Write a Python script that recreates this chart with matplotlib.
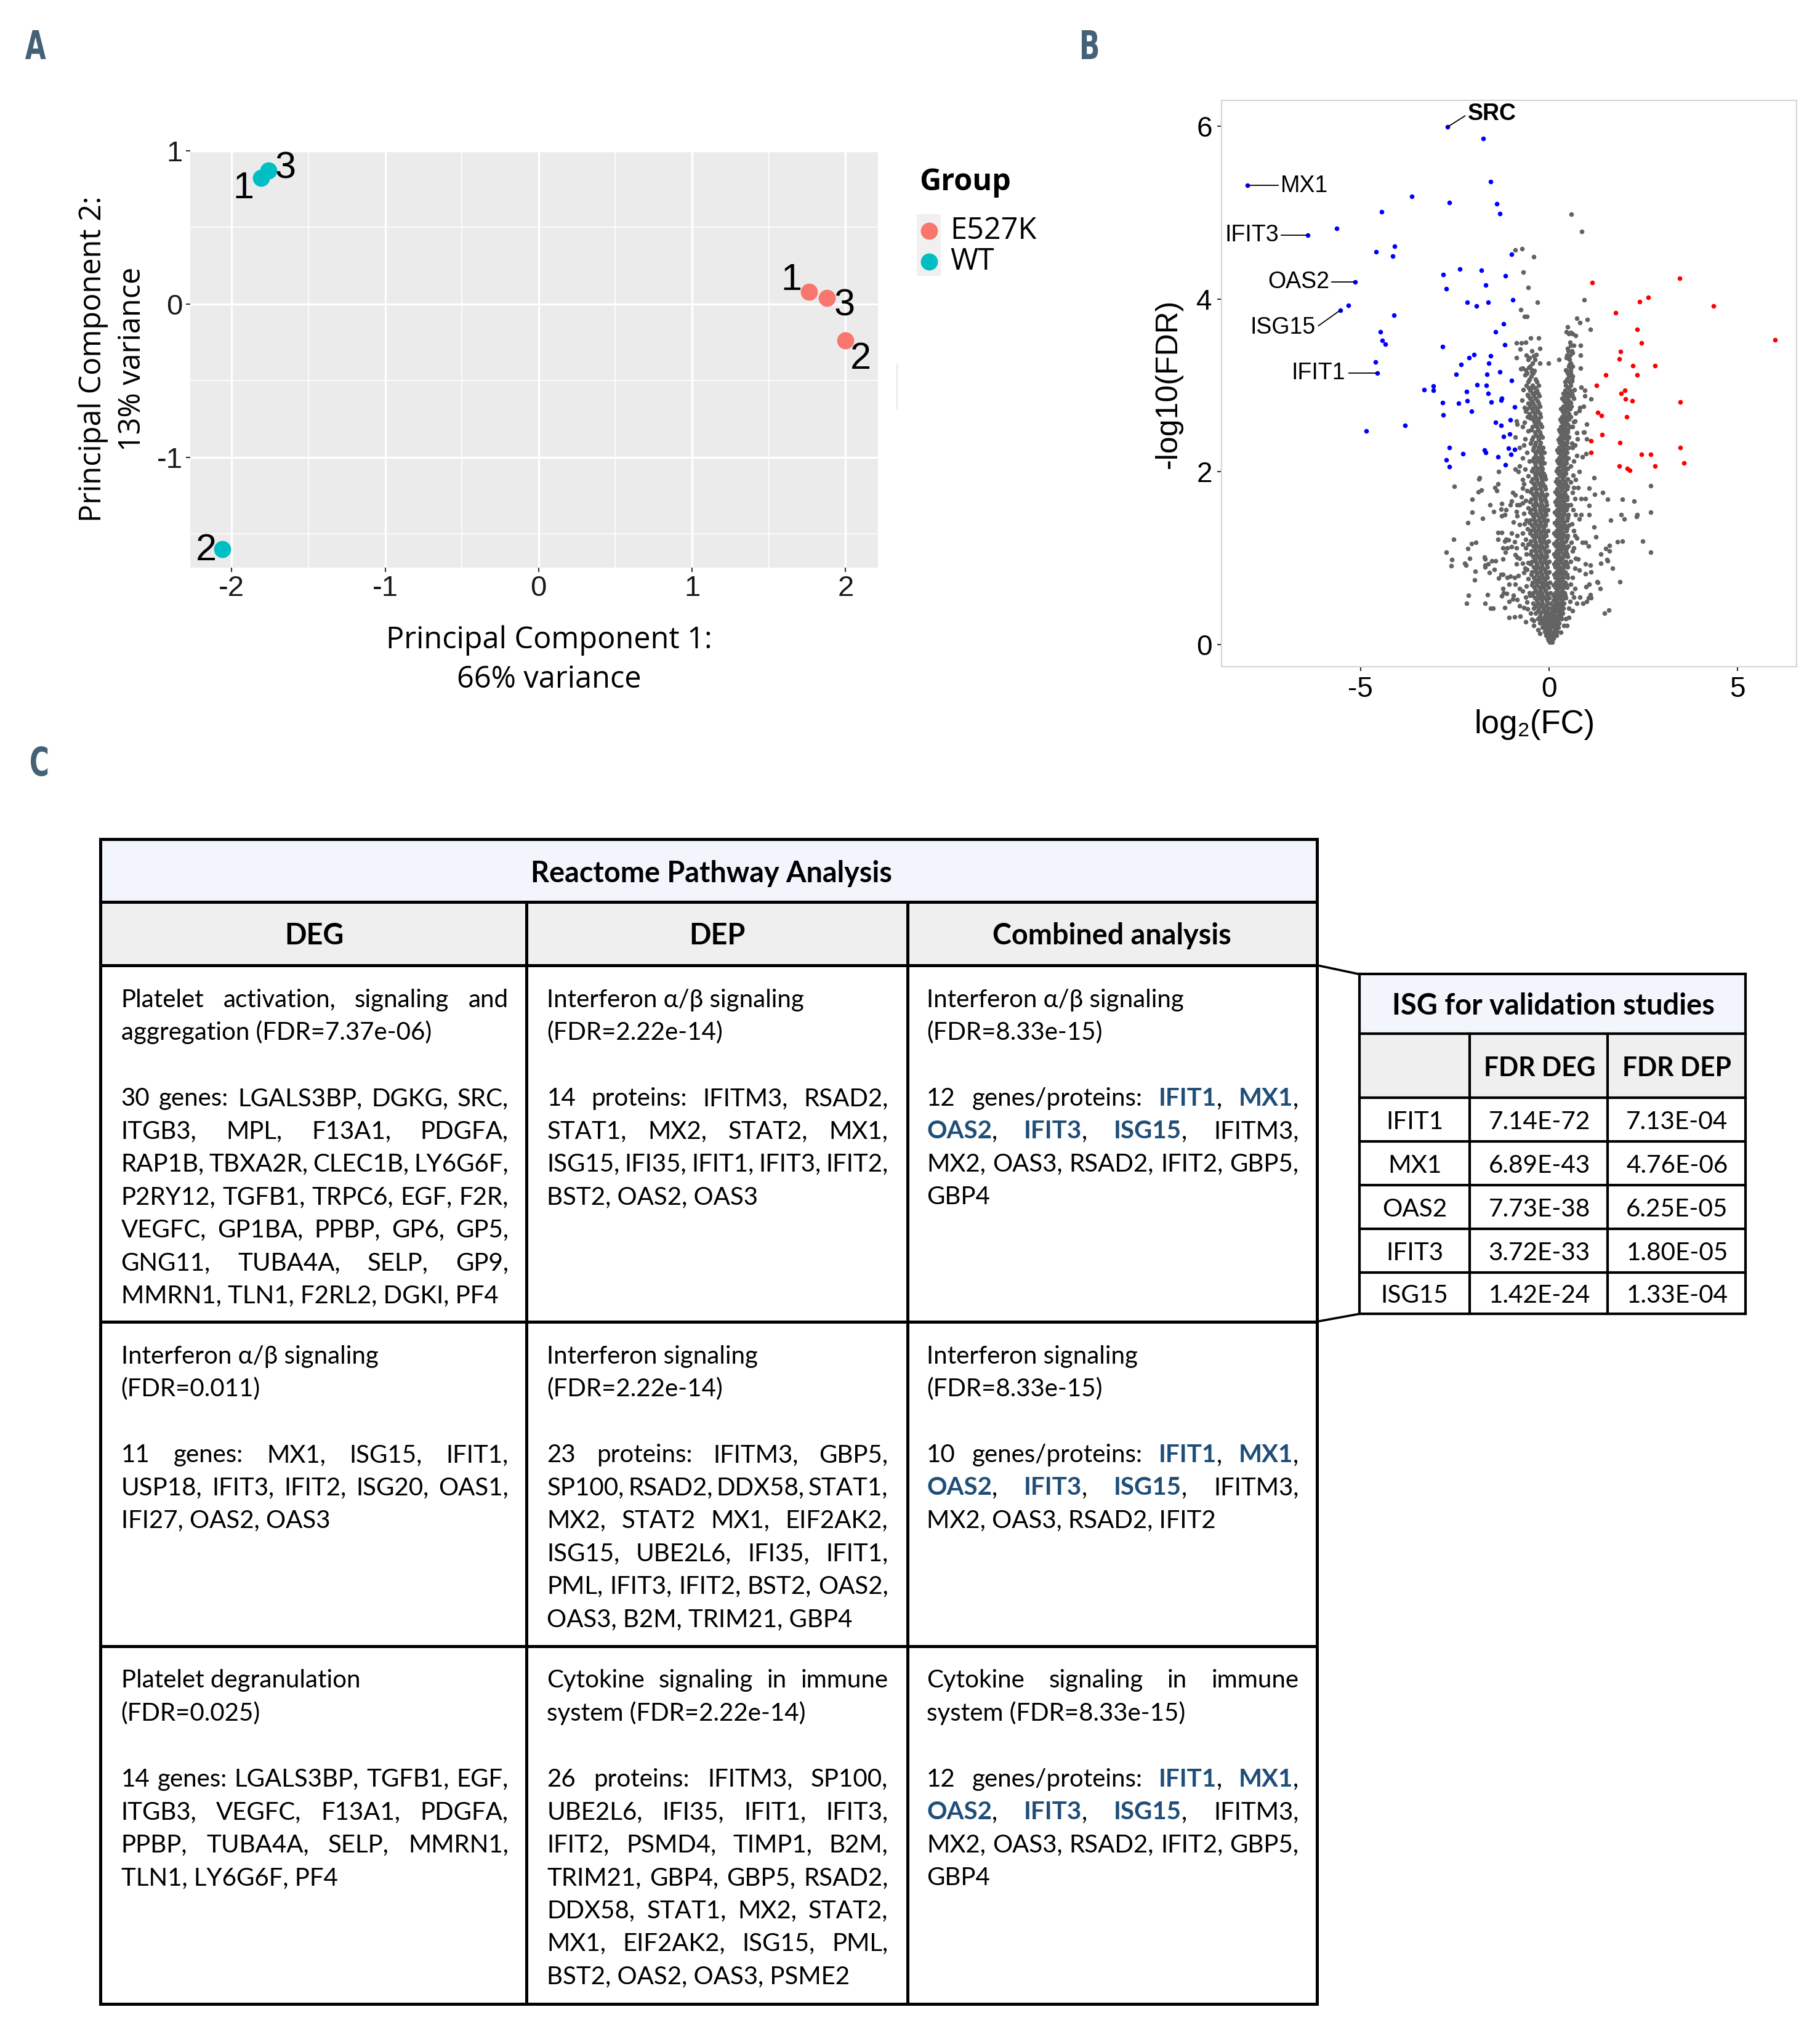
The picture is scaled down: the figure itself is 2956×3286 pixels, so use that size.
import numpy as np
import matplotlib
matplotlib.use("Agg")
import matplotlib.pyplot as plt
from matplotlib.patches import Rectangle, PathPatch
from matplotlib.lines import Line2D
from matplotlib.textpath import TextPath
from matplotlib.font_manager import FontProperties
from matplotlib.transforms import Affine2D, IdentityTransform

plt.rcParams["axes.unicode_minus"] = False

# ---------------- data ----------------
# panel A: PCA
pc1_wt = [-1.81, -2.06, -1.76]
pc2_wt = [0.82, -1.60, 0.87]
pc1_mut = [1.76, 2.00, 1.88]
pc2_mut = [0.08, -0.24, 0.04]
sample_ids = ["1", "2", "3"]

# panel B: volcano (log2FC, -log10 FDR)
blue_pts = [
    (-2.70, 5.99), (-1.74, 5.86), (-8.00, 5.32), (-1.55, 5.36), (-3.64, 5.19), (-2.64, 5.12),
    (-1.39, 5.10), (-1.31, 4.99), (-4.45, 5.01), (-5.63, 4.82), (-6.40, 4.74), (-4.10, 4.61),
    (-4.59, 4.55), (-4.15, 4.50), (-2.36, 4.35), (-1.80, 4.33), (-2.81, 4.28), (-1.16, 4.27),
    (-5.14, 4.20), (-1.68, 4.16), (-2.73, 4.12), (-2.17, 3.96), (-1.92, 3.92), (-1.62, 3.96),
    (-5.33, 3.93), (-5.54, 3.87), (-4.11, 3.81), (-1.20, 3.71), (-1.42, 3.62), (-4.47, 3.62),
    (-4.43, 3.52), (-4.35, 3.48), (-2.83, 3.45), (-1.17, 3.47), (-1.99, 3.36), (-1.55, 3.34),
    (-2.12, 3.32), (-4.61, 3.27), (-1.60, 3.26), (-2.33, 3.24), (-4.56, 3.14), (-2.47, 3.13),
    (-1.65, 3.13), (-1.31, 3.16), (-1.00, 4.52), (-0.96, 3.99), (-1.00, 3.06),
    (-3.32, 2.95), (-3.07, 2.99), (-3.07, 2.94), (-2.18, 2.93), (-1.91, 3.01), (-1.67, 3.00),
    (-1.61, 2.91), (-2.83, 2.80), (-2.40, 2.79), (-2.17, 2.82), (-1.54, 2.81), (-1.26, 2.85),
    (-1.28, 2.83), (-2.81, 2.66), (-2.06, 2.70), (-3.82, 2.54), (-4.85, 2.47), (-1.42, 2.57),
    (-1.28, 2.54), (-1.20, 2.41), (-2.64, 2.28), (-2.28, 2.21), (-1.71, 2.25), (-1.68, 2.22),
    (-1.36, 2.17), (-2.73, 2.14), (-2.65, 2.06), (-1.16, 2.08),
    (-0.91, 2.75), (-1.03, 2.60), (-1.04, 2.44), (-1.07, 2.27), (-0.92, 2.26), (-1.01, 2.20),
]
red_pts = [
    (1.15, 4.19), (3.46, 4.24), (2.63, 4.02), (2.41, 3.97), (4.37, 3.92), (1.77, 3.84),
    (2.34, 3.65), (6.00, 3.53), (2.45, 3.49), (1.90, 3.39), (1.86, 3.31), (2.23, 3.23),
    (2.81, 3.23), (1.51, 3.12), (2.34, 3.12), (1.26, 3.00), (1.91, 2.91), (2.01, 2.94),
    (2.03, 2.84), (2.21, 2.82), (3.49, 2.81), (1.29, 2.69), (1.39, 2.65), (2.06, 2.64),
    (1.41, 2.43), (1.11, 2.36), (1.88, 2.34), (3.49, 2.28), (1.11, 2.22), (2.46, 2.20),
    (2.70, 2.20), (3.58, 2.10), (1.86, 2.07), (2.08, 2.04), (2.14, 2.02), (2.82, 2.07),
]
# dense V of non-significant genes: (y, x values on that row)
grey_rows = [
    (0.03, [0.02, 0.09]),
    (0.05, [-0.01, 0.07]),
    (0.07, [-0.03, 0.05, 0.12]),
    (0.11, [-0.08, 0.0, 0.07, 0.13, 0.19]),
    (0.13, [-0.05, 0.03, 0.10, 0.17]),
    (0.15, [-0.12, -0.03, 0.05, 0.14, 0.22]),
    (0.17, [-0.10, 0.01, 0.18]),
    (0.20, [-0.18, -0.07, 0.03, 0.14, 0.24]),
    (0.22, [-0.14, -0.04, 0.08, 0.19]),
    (0.25, [-0.24, -0.12, -0.02, 0.05, 0.15, 0.26]),
    (0.27, [-0.19, -0.08, 0.01, 0.10, 0.21]),
    (0.30, [-0.30, -0.17, -0.06, 0.04, 0.15, 0.25, 0.33]),
    (0.33, [-0.24, -0.12, -0.01, 0.10, 0.21, 0.31]),
    (0.36, [-0.36, -0.22, -0.10, 0.02, 0.14, 0.26, 0.36]),
    (0.39, [-0.29, -0.16, -0.04, 0.10, 0.22, 0.33]),
    (0.42, [-0.40, -0.27, -0.14, -0.02, 0.05, 0.15, 0.27, 0.38]),
    (0.45, [-0.35, -0.21, -0.08, 0.11, 0.23, 0.35]),
    (0.48, [-0.43, -0.30, -0.18, -0.05, 0.04, 0.16, 0.28, 0.40]),
    (0.51, [-0.33, -0.20, -0.07, 0.11, 0.22, 0.34]),
    (0.54, [-0.38, -0.25, -0.12, 0.0, 0.15, 0.26, 0.37, 0.45]),
    (0.57, [-0.44, -0.30, -0.17, -0.05, 0.12, 0.21, 0.32, 0.43]),
    (0.60, [-0.42, -0.31, -0.19, -0.07, 0.03, 0.17, 0.29, 0.41]),
    (0.63, [-0.35, -0.22, -0.09, 0.22, 0.34]),
    (0.66, [-0.39, -0.26, -0.14, -0.02, 0.16, 0.27, 0.38, 0.48]),
    (0.69, [-0.46, -0.32, -0.18, -0.06, 0.12, 0.23, 0.35, 0.46]),
    (0.72, [-0.44, -0.33, -0.21, -0.09, 0.02, 0.18, 0.30, 0.42]),
    (0.75, [-0.36, -0.24, -0.11, 0.23, 0.34]),
    (0.78, [-0.40, -0.28, -0.16, -0.04, 0.16, 0.26, 0.37, 0.49]),
    (0.81, [-0.47, -0.32, -0.19, -0.06, 0.13, 0.24, 0.36, 0.47]),
    (0.84, [-0.45, -0.34, -0.22, -0.10, 0.01, 0.19, 0.31, 0.43]),
    (0.87, [-0.36, -0.23, -0.11, 0.24, 0.35]),
    (0.90, [-0.41, -0.29, -0.17, -0.05, 0.17, 0.28, 0.39, 0.50]),
    (0.93, [-0.48, -0.33, -0.20, -0.07, 0.13, 0.25, 0.37, 0.48]),
    (0.96, [-0.46, -0.35, -0.23, -0.11, 0.0, 0.18, 0.32, 0.44]),
    (0.99, [-0.37, -0.24, -0.12, 0.23, 0.34]),
    (1.02, [-0.42, -0.30, -0.18, -0.06, 0.17, 0.27, 0.38, 0.49]),
    (1.05, [-0.49, -0.34, -0.21, -0.08, 0.13, 0.25, 0.37, 0.48]),
    (1.08, [-0.47, -0.36, -0.24, -0.12, -0.01, 0.19, 0.31, 0.44]),
    (1.11, [-0.38, -0.25, -0.13, 0.24, 0.35, 0.46]),
    (1.14, [-0.43, -0.31, -0.19, -0.07, 0.18, 0.29, 0.40, 0.51]),
    (1.17, [-0.50, -0.35, -0.21, -0.08, 0.14, 0.26, 0.38]),
    (1.20, [-0.48, -0.37, -0.25, -0.13, -0.02, 0.20, 0.33, 0.45]),
    (1.23, [-0.39, -0.26, -0.14, 0.24, 0.35, 0.47]),
    (1.26, [-0.44, -0.32, -0.20, -0.08, 0.18, 0.28, 0.39, 0.50]),
    (1.29, [-0.51, -0.36, -0.22, -0.09, 0.14, 0.26, 0.38]),
    (1.32, [-0.49, -0.38, -0.26, -0.14, -0.03, 0.20, 0.32, 0.46]),
    (1.35, [-0.40, -0.27, -0.15, 0.25, 0.36, 0.48]),
    (1.38, [-0.45, -0.33, -0.21, -0.09, 0.19, 0.30, 0.41, 0.52]),
    (1.41, [-0.52, -0.37, -0.23, -0.10, 0.15, 0.27, 0.39]),
    (1.44, [-0.50, -0.39, -0.27, -0.15, -0.04, 0.21, 0.34, 0.47]),
    (1.47, [-0.40, -0.26, -0.14, 0.25, 0.36, 0.49]),
    (1.50, [-0.44, -0.32, -0.20, -0.08, 0.19, 0.29, 0.40, 0.51]),
    (1.53, [-0.51, -0.36, -0.22, -0.09, 0.15, 0.27, 0.40]),
    (1.56, [-0.48, -0.37, -0.25, -0.13, -0.03, 0.21, 0.33, 0.46]),
    (1.59, [-0.39, -0.25, -0.13, 0.26, 0.37, 0.47]),
    (1.62, [-0.43, -0.31, -0.19, -0.07, 0.20, 0.30, 0.41, 0.50]),
    (1.65, [-0.50, -0.35, -0.21, -0.08, 0.16, 0.28, 0.40]),
    (1.68, [-0.47, -0.35, -0.23, -0.11, 0.22, 0.34, 0.47]),
    (1.71, [-0.38, -0.24, -0.12, 0.27, 0.37, 0.48]),
    (1.74, [-0.42, -0.30, -0.18, -0.06, 0.21, 0.31, 0.42]),
    (1.77, [-0.48, -0.34, -0.20, 0.17, 0.28, 0.41]),
    (1.80, [-0.46, -0.34, -0.22, -0.10, 0.22, 0.35, 0.48]),
    (1.83, [-0.37, -0.23, -0.11, 0.28, 0.39, 0.50]),
    (1.86, [-0.40, -0.28, -0.16, 0.23, 0.33, 0.44]),
    (1.89, [-0.47, -0.33, -0.19, 0.18, 0.29, 0.42]),
    (1.92, [-0.44, -0.32, -0.20, -0.09, 0.22, 0.36, 0.49]),
    (1.95, [-0.36, -0.22, -0.11, 0.29, 0.40]),
    (1.98, [-0.38, -0.26, -0.14, 0.24, 0.34, 0.45]),
    (2.01, [-0.45, -0.32, -0.19, 0.19, 0.30, 0.43]),
    (2.04, [-0.42, -0.30, -0.18, 0.23, 0.37, 0.50]),
    (2.07, [-0.35, -0.21, 0.30, 0.41]),
    (2.10, [-0.37, -0.25, -0.13, 0.25, 0.35, 0.46]),
    (2.13, [-0.44, -0.31, -0.19, 0.21, 0.32, 0.44]),
    (2.16, [-0.41, -0.29, -0.17, 0.26, 0.38, 0.51]),
    (2.19, [-0.35, -0.21, 0.31, 0.42]),
    (2.22, [-0.36, -0.24, -0.13, 0.25, 0.36, 0.47]),
    (2.25, [-0.43, -0.30, -0.19, 0.22, 0.33, 0.45]),
    (2.28, [-0.40, -0.28, -0.16, 0.27, 0.39, 0.52]),
    (2.31, [-0.37, -0.24, 0.33, 0.44]),
    (2.34, [-0.35, -0.23, 0.28, 0.37, 0.48]),
    (2.37, [-0.45, -0.27, 0.24, 0.35, 0.47]),
    (2.40, [-0.42, -0.30, -0.18, 0.29, 0.41, 0.53]),
    (2.43, [-0.35, -0.22, 0.35, 0.46]),
    (2.46, [-0.37, -0.25, 0.30, 0.40, 0.50]),
    (2.49, [-0.47, -0.30, 0.26, 0.37, 0.49]),
    (2.52, [-0.44, -0.32, -0.20, 0.31, 0.43, 0.55]),
    (2.55, [-0.36, -0.23, 0.38, 0.50]),
    (2.58, [-0.39, -0.27, 0.33, 0.44]),
    (2.61, [-0.43, -0.30, 0.29, 0.41, 0.52]),
    (2.64, [-0.47, -0.35, -0.22, 0.34, 0.46, 0.57]),
    (2.67, [-0.52, -0.38, -0.25, 0.40, 0.53]),
    (2.70, [-0.42, -0.29, 0.36, 0.48]),
    (2.73, [-0.46, -0.33, 0.32, 0.44, 0.55]),
    (2.76, [-0.50, -0.38, -0.24, 0.37, 0.50, 0.59]),
    (2.79, [-0.55, -0.42, -0.28, 0.45, 0.56]),
    (2.82, [-0.45, -0.31, 0.39, 0.52]),
    (2.85, [-0.50, -0.36, 0.35, 0.48]),
    (2.88, [-0.55, -0.41, -0.26, 0.41, 0.54, 0.62]),
    (2.91, [-0.44, -0.30, 0.38, 0.50, 0.60]),
    (2.94, [-0.48, -0.33, 0.43, 0.56]),
    (2.97, [-0.53, -0.38, 0.51]),
    (3.00, [-0.60, -0.44, -0.28, 0.45, 0.58]),
    (3.04, [-0.56, -0.32, 0.42, 0.54]),
    (3.07, [-0.52, -0.36, 0.47, 0.60]),
    (3.11, [-0.47, 0.52, 0.63]),
    (3.14, [-0.58, -0.42, 0.49, 0.57]),
    (3.18, [-0.62, -0.45, 0.45, 0.58]),
    (3.22, [-0.50, 0.52, 0.62]),
    (3.26, [-0.44, 0.58]),
    (3.30, [-0.55, -0.38, 0.54]),
    (3.35, [-0.60, 0.47, 0.56]),
    (3.40, [-0.46, 0.51, 0.60]),
    (3.50, [-0.62, 0.55]),
    (3.60, [0.53, 0.62]),
]
grey_scatter = [
    (-1.33, 2.00), (-1.86, 1.92), (-1.84, 1.93), (-2.51, 1.83), (-1.36, 1.86), (-1.44, 1.82),
    (-1.38, 1.78), (-1.88, 1.77), (-1.79, 1.79), (-2.04, 1.68), (-1.56, 1.62), (-1.26, 1.63),
    (-1.28, 1.57), (-1.14, 1.56), (-1.47, 1.54), (-2.04, 1.53), (-1.26, 1.49), (-1.17, 1.50),
    (-1.76, 1.46), (-2.16, 1.41), (-1.35, 1.30), (-1.26, 1.30), (-1.35, 1.22), (-2.53, 1.22),
    (-1.18, 1.20), (-1.14, 1.22), (-2.05, 1.17), (-1.94, 1.18), (-1.22, 1.12), (-2.16, 1.11),
    (-2.73, 1.07), (-1.15, 1.07), (-2.58, 0.98), (-2.60, 0.91), (-2.10, 1.00), (-1.71, 1.01),
    (-1.70, 0.99), (-1.51, 0.97), (-1.42, 0.97), (-1.23, 0.99), (-2.24, 0.94), (-2.21, 0.92),
    (-1.69, 0.92), (-1.61, 0.93), (-1.69, 0.90), (-1.96, 0.85), (-1.58, 0.83), (-1.46, 0.87),
    (-1.33, 0.77), (-1.28, 0.81), (-1.23, 0.81), (-1.11, 0.78), (-1.97, 0.75), (-1.23, 0.65),
    (-2.14, 0.57), (-1.64, 0.58), (-1.26, 0.56), (-1.21, 0.60), (-1.12, 0.59), (-2.19, 0.48),
    (-1.69, 0.48), (-1.55, 0.42), (-1.49, 0.42), (-1.17, 0.43),
    (-0.89, 4.57), (-0.71, 4.58), (-0.41, 4.49), (-0.69, 4.31), (-0.55, 4.13), (-0.31, 3.96),
    (0.94, 3.99), (-0.75, 3.88), (-0.65, 3.80), (-0.58, 3.80), (0.73, 3.78), (1.02, 3.76),
    (0.82, 3.73), (1.09, 3.65), (0.50, 3.68), (0.46, 3.62), (0.57, 3.61), (0.70, 3.58),
    (-0.49, 3.55), (-0.28, 3.55), (-0.86, 3.49), (-0.73, 3.49), (-0.77, 3.42), (-0.24, 3.43),
    (0.50, 3.43), (0.58, 3.46), (0.65, 3.46), (0.83, 3.46), (0.63, 3.38), (-0.86, 3.32),
    (-0.52, 3.32), (-0.40, 3.34), (-0.34, 3.36), (0.83, 3.35), (0.27, 3.30), (0.46, 3.32),
    (-0.25, 3.26), (-0.01, 3.26), (0.54, 3.24), (0.58, 3.25), (-0.75, 3.19), (-0.70, 3.20),
    (-0.53, 3.21), (0.83, 3.20), (-0.45, 3.16), (-0.39, 3.17), (-0.63, 3.12), (0.46, 3.17),
    (0.59, 4.98), (0.87, 4.78),
    (1.19, 1.93), (2.69, 1.84), (1.42, 1.76), (1.21, 1.74), (1.55, 1.68), (1.94, 1.68),
    (2.26, 1.66), (1.06, 1.81), (1.07, 1.61), (2.69, 1.53), (1.92, 1.50), (2.00, 1.45),
    (2.32, 1.48), (2.34, 1.50), (1.63, 1.44), (1.20, 1.36), (1.25, 1.25), (1.82, 1.19),
    (1.94, 1.20), (2.48, 1.20), (1.60, 1.15), (1.51, 1.11), (1.60, 1.08), (1.38, 1.05),
    (2.70, 1.07), (1.53, 0.98), (1.56, 0.97), (1.38, 0.94), (1.69, 0.88), (1.88, 0.73),
    (1.27, 0.73), (1.30, 0.72), (1.35, 0.65), (1.58, 0.40), (1.48, 0.36), (1.11, 0.54),
    (1.04, 0.54), (1.09, 0.58), (1.00, 0.50), (0.90, 0.48), (1.07, 0.70), (0.99, 0.67),
    (1.11, 0.84), (1.09, 0.92), (1.05, 1.14), (0.96, 1.18), (0.88, 1.18), (1.06, 1.50),
    (1.00, 2.38), (1.00, 2.55), (1.11, 2.84), (0.95, 2.94), (0.95, 2.88), (0.85, 2.98),
    (0.65, 2.85), (0.92, 2.76), (0.80, 2.71), (0.82, 2.74), (0.69, 2.59), (0.66, 2.58),
    (0.92, 2.46), (0.93, 2.46), (0.74, 2.45), (0.69, 2.31), (0.63, 2.28), (0.88, 2.17),
    (0.74, 2.19), (0.99, 2.21), (0.80, 2.00), (0.71, 1.91), (0.77, 1.82), (0.66, 1.82),
    (0.69, 1.69), (0.85, 1.69), (0.96, 1.69), (0.71, 1.50), (0.85, 1.50), (0.80, 1.45),
    (0.69, 1.26), (0.74, 1.23), (0.66, 1.12), (0.71, 1.00), (0.77, 0.99), (0.69, 0.88),
    (0.80, 0.86), (0.96, 0.82), (0.96, 0.93), (0.69, 0.65), (0.66, 0.55), (0.82, 0.55),
    (0.74, 0.48), (0.63, 0.39), (0.52, 0.31), (0.47, 0.22),
    (-0.89, 2.40), (-0.78, 2.28), (-0.67, 2.31), (-0.84, 2.55), (-0.87, 2.59), (-0.65, 2.57),
    (-0.57, 2.64), (-0.65, 2.74), (-0.59, 2.73), (-0.57, 2.89), (-0.51, 2.94), (-0.68, 2.95),
    (-0.89, 2.03), (-0.81, 2.00), (-0.78, 2.07), (-0.70, 1.91), (-0.70, 1.81), (-0.97, 1.76),
    (-0.89, 1.73), (-0.73, 1.71), (-0.84, 1.62), (-1.00, 1.66), (-1.03, 1.62), (-0.70, 1.64),
    (-0.78, 1.62), (-0.87, 1.54), (-0.84, 1.49), (-0.95, 1.42), (-0.78, 1.39), (-0.65, 1.40),
    (-1.00, 1.29), (-0.84, 1.26), (-0.70, 1.29), (-1.08, 1.21), (-0.92, 1.19), (-1.11, 1.12),
    (-1.00, 1.13), (-0.87, 1.12), (-0.70, 1.16), (-0.62, 1.12), (-0.89, 1.04), (-0.84, 1.01),
    (-0.78, 1.00), (-0.70, 0.94), (-0.87, 0.93), (-1.03, 0.79), (-0.92, 0.78), (-0.81, 0.80),
    (-0.67, 0.83), (-0.59, 0.87), (-1.06, 0.70), (-0.89, 0.70), (-0.78, 0.65), (-0.70, 0.62),
    (-0.95, 0.57), (-0.84, 0.52), (-0.62, 0.55), (-0.51, 0.57), (-1.06, 0.50), (-0.97, 0.53),
    (-0.78, 0.45), (-0.67, 0.43), (-0.57, 0.41), (-1.06, 0.31), (-0.92, 0.32), (-0.76, 0.33),
    (-0.62, 0.26), (-0.46, 0.29), (-0.40, 0.22), (-0.29, 0.17), (-0.24, 0.13),
    (-0.46, 2.98), (-0.35, 2.92), (-0.72, 2.83), (-0.45, 2.80), (-0.62, 2.70), (-0.50, 2.62),
    (-0.70, 2.52), (-0.55, 2.47), (-0.63, 2.38), (-0.48, 2.33), (-0.58, 2.22), (-0.70, 2.16),
    (-0.52, 2.12), (-0.64, 2.03), (-0.55, 1.95), (-0.66, 1.86), (-0.58, 1.78), (-0.62, 1.67),
    (-0.55, 1.58), (-0.66, 1.52), (-0.60, 1.44), (-0.57, 1.34), (-0.62, 1.22), (-0.55, 1.16),
    (-0.60, 1.05), (-0.56, 0.95), (-0.63, 0.88), (-0.55, 0.76), (-0.60, 0.68), (-0.52, 0.60),
    (-0.58, 0.49), (-0.48, 0.36), (-0.40, 0.28),
    (0.60, 3.05), (0.68, 2.95), (0.58, 2.80), (0.70, 2.68), (0.62, 2.52), (0.75, 2.38),
    (0.61, 2.33), (0.66, 2.12), (0.58, 2.07), (0.64, 1.96), (0.58, 1.88), (0.62, 1.76),
    (0.57, 1.62), (0.64, 1.56), (0.60, 1.40), (0.65, 1.32), (0.59, 1.18), (0.62, 1.08),
    (0.58, 0.96), (0.63, 0.78), (0.57, 0.70), (0.60, 0.60), (0.55, 0.50), (0.52, 0.42),
    (0.45, 0.30), (0.40, 0.22), (0.32, 0.14),
]
labeled_genes = ["SRC", "MX1", "IFIT3", "OAS2", "ISG15", "IFIT1"]
labeled_pts = [(-2.70, 5.99), (-8.00, 5.32), (-6.40, 4.74), (-5.14, 4.20), (-5.54, 3.87), (-4.56, 3.14)]

# panel C: Reactome table (">" = justified line, *x* = highlighted gene)
col_headers = ["DEG", "DEP", "Combined analysis"]
deg_cells = [
    [">Platelet activation, signaling and", "aggregation (FDR=7.37e-06)", "",
     ">30 genes: LGALS3BP, DGKG, SRC,", ">ITGB3, MPL, F13A1, PDGFA,",
     ">RAP1B, TBXA2R, CLEC1B, LY6G6F,", ">P2RY12, TGFB1, TRPC6, EGF, F2R,",
     ">VEGFC, GP1BA, PPBP, GP6, GP5,", ">GNG11, TUBA4A, SELP, GP9,",
     "MMRN1, TLN1, F2RL2, DGKI, PF4"],
    ["Interferon α/β signaling", "(FDR=0.011)", "",
     ">11 genes: MX1, ISG15, IFIT1,", ">USP18, IFIT3, IFIT2, ISG20, OAS1,",
     "IFI27, OAS2, OAS3"],
    ["Platelet degranulation", "(FDR=0.025)", "",
     ">14 genes: LGALS3BP, TGFB1, EGF,", ">ITGB3, VEGFC, F13A1, PDGFA,",
     ">PPBP, TUBA4A, SELP, MMRN1,", "TLN1, LY6G6F, PF4"],
]
dep_cells = [
    ["Interferon α/β signaling", "(FDR=2.22e-14)", "",
     ">14 proteins: IFITM3, RSAD2,", ">STAT1, MX2, STAT2, MX1,",
     ">ISG15, IFI35, IFIT1, IFIT3, IFIT2,", "BST2, OAS2, OAS3"],
    ["Interferon signaling", "(FDR=2.22e-14)", "",
     ">23 proteins: IFITM3, GBP5,", ">SP100, RSAD2, DDX58, STAT1,",
     ">MX2, STAT2 MX1, EIF2AK2,", ">ISG15, UBE2L6, IFI35, IFIT1,",
     ">PML, IFIT3, IFIT2, BST2, OAS2,", "OAS3, B2M, TRIM21, GBP4"],
    [">Cytokine signaling in immune", "system (FDR=2.22e-14)", "",
     ">26 proteins: IFITM3, SP100,", ">UBE2L6, IFI35, IFIT1, IFIT3,",
     ">IFIT2, PSMD4, TIMP1, B2M,", ">TRIM21, GBP4, GBP5, RSAD2,",
     ">DDX58, STAT1, MX2, STAT2,", ">MX1, EIF2AK2, ISG15, PML,",
     "BST2, OAS2, OAS3, PSME2"],
]
comb_cells = [
    ["Interferon α/β signaling", "(FDR=8.33e-15)", "",
     ">12 genes/proteins: *IFIT1*, *MX1*,", ">*OAS2*, *IFIT3*, *ISG15*, IFITM3,",
     ">MX2, OAS3, RSAD2, IFIT2, GBP5,", "GBP4"],
    ["Interferon signaling", "(FDR=8.33e-15)", "",
     ">10 genes/proteins: *IFIT1*, *MX1*,", ">*OAS2*, *IFIT3*, *ISG15*, IFITM3,",
     "MX2, OAS3, RSAD2, IFIT2"],
    [">Cytokine signaling in immune", "system (FDR=8.33e-15)", "",
     ">12 genes/proteins: *IFIT1*, *MX1*,", ">*OAS2*, *IFIT3*, *ISG15*, IFITM3,",
     ">MX2, OAS3, RSAD2, IFIT2, GBP5,", "GBP4"],
]
isg_genes = ["IFIT1", "MX1", "OAS2", "IFIT3", "ISG15"]
isg_fdr_deg = ["7.14E-72", "6.89E-43", "7.73E-38", "3.72E-33", "1.42E-24"]
isg_fdr_dep = ["7.13E-04", "4.76E-06", "6.25E-05", "1.80E-05", "1.33E-04"]

# ---------------- figure ----------------
W, H, DPI = 2956, 3286, 100
fig = plt.figure(figsize=(W / DPI, H / DPI), dpi=DPI)
fig.patch.set_facecolor("white")

# layout measured on a 1414 x 1572 preview of the figure
SX, SY = 1414.0, 1572.0
def fx(x):
    return x / SX
def fy(y):
    return 1 - y / SY

NARROW = ["Liberation Sans Narrow", "Liberation Sans", "DejaVu Sans"]
ARIAL = ["Liberation Sans", "DejaVu Sans"]
OPEN = ["Open Sans", "DejaVu Sans"]
BODY = ["Lato", "DejaVu Sans"]
LETTER_C = "#456176"

# panel letters: condensed bold glyphs (left, baseline, in output pixels; y measured from top)
letter_prop = FontProperties(family="DejaVu Sans", weight="bold")
for lab, left, base in [("A", 41, 96), ("B", 1757, 96), ("C", 50, 1260)]:
    tp = TextPath((0, 0), lab, size=64.5, prop=letter_prop)
    ext = tp.get_extents()
    tr = Affine2D().translate(-ext.x0, 0).scale(0.68, 1.0).translate(left, H - base)
    fig.add_artist(PathPatch(tp, transform=tr + IdentityTransform(), facecolor=LETTER_C,
                             edgecolor="none"))

# ---- Panel A: PCA ----
axA = fig.add_axes([fx(148), fy(441), fx(682) - fx(148), fy(117) - fy(441)])
axA.set_facecolor("#EBEBEB")
for s in axA.spines.values():
    s.set_visible(False)
axA.set_xlim(-2.268, 2.21)
axA.set_ylim(-1.72, 0.995)
axA.set_xticks([-2, -1, 0, 1, 2])
axA.set_xticks([-1.5, -0.5, 0.5, 1.5], minor=True)
axA.set_yticks([-1, 0, 1])
axA.set_yticks([-1.5, -0.5, 0.5], minor=True)
axA.grid(which="major", color="white", lw=2.4)
axA.grid(which="minor", color="white", lw=1.2)
axA.set_axisbelow(True)
axA.tick_params(which="major", length=5, width=1.5, color="#333333", labelsize=34,
                labelcolor="#1a1a1a", pad=4)
axA.tick_params(which="minor", length=0)
for lbl in axA.get_xticklabels() + axA.get_yticklabels():
    lbl.set_family(NARROW)
axA.set_xlabel("Principal Component 1:\n66% variance", fontsize=35, family=OPEN,
               linespacing=1.4)
axA.xaxis.set_label_coords(0.522, -0.138)
axA.set_ylabel("Principal Component 2:\n13% variance", fontsize=35, family=OPEN,
               linespacing=1.4)
axA.yaxis.set_label_coords(-0.062, 0.5)

WT_C, MUT_C = "#00BFC4", "#F8766D"
axA.scatter(pc1_mut, pc2_mut, s=400, color=MUT_C, lw=0, zorder=3)
axA.scatter(pc1_wt, pc2_wt, s=400, color=WT_C, lw=0, zorder=3)
wt_offsets = [(-20, -12), (-19, -2), (20, 2)]
mut_offsets = [(-20, 13), (18, -22), (20, -10)]
for xs, ys, offs in [(pc1_wt, pc2_wt, wt_offsets), (pc1_mut, pc2_mut, mut_offsets)]:
    for x, y, sid, off in zip(xs, ys, sample_ids, offs):
        axA.annotate(sid, (x, y), xytext=off, textcoords="offset points", ha="center",
                     va="center", fontsize=44, family=NARROW, zorder=4)

# legend of panel A
fig.text(fx(714), fy(142), "Group", fontsize=35, fontweight="bold", family=OPEN,
         ha="left", va="center")
fig.add_artist(Rectangle((fx(712.5), fy(214.5)), fx(731.1) - fx(712.5), fy(166.6) - fy(214.5),
                         transform=fig.transFigure, facecolor="#F0F0F0", edgecolor="none"))
for name, col, yy in [("E527K", MUT_C, 179.5), ("WT", WT_C, 203.5)]:
    fig.add_artist(Line2D([fx(721.8)], [fy(yy)], marker="o", markersize=20, color=col,
                          markeredgewidth=0, transform=fig.transFigure))
    fig.text(fx(738), fy(yy), name, fontsize=35, family=OPEN, ha="left", va="center")
fig.add_artist(Line2D([fx(697), fx(697)], [fy(283), fy(318)], color="#E2E2E2", lw=1.2,
                      transform=fig.transFigure))

# ---- Panel B: volcano ----
axB = fig.add_axes([1984 / W, 1 - 1083 / H, (2918 - 1984) / W, (1083 - 163) / H])
for s in axB.spines.values():
    s.set_color("#D4D4D4")
    s.set_linewidth(1.5)
grey_x = [x for y, xs in grey_rows for x in xs] + [p[0] for p in grey_scatter]
grey_y = [y for y, xs in grey_rows for x in xs] + [p[1] for p in grey_scatter]
axB.scatter(grey_x, grey_y, s=30, color="#636363", lw=0, zorder=2)
axB.scatter([p[0] for p in blue_pts], [p[1] for p in blue_pts], s=30, color="#0000FF", lw=0, zorder=3)
axB.scatter([p[0] for p in red_pts], [p[1] for p in red_pts], s=30, color="#FF0000", lw=0, zorder=3)
axB.set_xlim(-8.69, 6.57)
axB.set_ylim(-0.257, 6.30)
axB.set_xticks([-5, 0, 5])
axB.set_yticks([0, 2, 4, 6])
axB.tick_params(length=5, width=1.5, color="#333333", labelsize=33, pad=6)
for lbl in axB.get_xticklabels() + axB.get_yticklabels():
    lbl.set_family(ARIAL)
axB.set_xlabel("log₂(FC)", fontsize=38, family=ARIAL, labelpad=14)
axB.xaxis.set_label_coords(0.545, -0.075)
axB.set_ylabel("-log10(FDR)", fontsize=36, family=ARIAL, labelpad=16)

# label text anchor, horizontal alignment and leader-line end for each labelled gene
label_style = {
    "SRC": ((-2.15, 6.14), "left", (-2.23, 6.12)),
    "MX1": ((-7.13, 5.31), "left", (-7.19, 5.32)),
    "IFIT3": ((-7.17, 4.74), "right", (-7.10, 4.74)),
    "OAS2": ((-5.83, 4.20), "right", (-5.77, 4.20)),
    "ISG15": ((-6.19, 3.67), "right", (-6.12, 3.69)),
    "IFIT1": ((-5.41, 3.14), "right", (-5.30, 3.14)),
}
for gene, (px, py) in zip(labeled_genes, labeled_pts):
    (tx, ty), ha, (lx, ly) = label_style[gene]
    axB.plot([lx, px], [ly, py], color="black", lw=1.3, zorder=4)
    axB.text(tx, ty, gene, ha=ha, va="center", fontsize=27, family=ARIAL,
             fontweight="bold" if gene == "SRC" else "normal", zorder=5)

# ---- Panel C: tables (drawn in preview-pixel coordinates) ----
axT = fig.add_axes([0, 0, 1, 1])
axT.set_xlim(0, SX)
axT.set_ylim(SY, 0)
axT.axis("off")
axT.patch.set_visible(False)
renderer = fig.canvas.get_renderer()

def measure(s, size, bold=False):
    t = axT.text(0, 0, s, fontsize=size, family=BODY, fontweight="bold" if bold else "normal")
    w = t.get_window_extent(renderer).width
    t.remove()
    return w * SX / W

body_fs = 1.03 * 30 * 284 / measure("MMRN1, TLN1, F2RL2, DGKI, PF4", 30)
head_fs = 30 * 280 / measure("Reactome Pathway Analysis", 30, True)
side_fs = 30 * 79 / measure("7.14E-72", 30)
side_head_fs = 30 * 250 / measure("ISG for validation studies", 30, True)
side_col_fs = 30 * 87 / measure("FDR DEG", 30, True)
BLUE = "#1F4E79"

# fills
axT.add_patch(Rectangle((78, 652), 945, 49, facecolor="#F3F5FC", edgecolor="none"))
axT.add_patch(Rectangle((78, 701), 945, 49, facecolor="#EFEFEF", edgecolor="none"))
axT.add_patch(Rectangle((1056, 757), 300, 46, facecolor="#F3F5FC", edgecolor="none"))
axT.add_patch(Rectangle((1056, 803), 300, 50, facecolor="#EFEFEF", edgecolor="none"))

LW = 3.6
tl, tr_ = 78, 1023
row_edges = [652, 701, 750, 1027, 1279, 1557]
col_edges = [409, 705]
for y in row_edges:
    axT.plot([tl, tr_], [y, y], color="black", lw=LW, solid_capstyle="projecting")
for x in [tl, tr_]:
    axT.plot([x, x], [652, 1557], color="black", lw=LW, solid_capstyle="projecting")
for x in col_edges:
    axT.plot([x, x], [701, 1557], color="black", lw=LW)

axT.text((tl + tr_) / 2 + 2, 679, "Reactome Pathway Analysis", fontsize=head_fs, family=BODY,
         fontweight="bold", ha="center", va="center")
for hdr, cx in zip(col_headers, [244, 557, 864]):
    axT.text(cx, 727, hdr, fontsize=head_fs, family=BODY, fontweight="bold",
             ha="center", va="center")

space_w = measure("a a", body_fs) - measure("aa", body_fs)

def draw_line(line, x0, x1, yb, fs):
    justify = line.startswith(">")
    if justify:
        line = line[1:]
    if not justify and "*" not in line:
        axT.text(x0, yb, line, fontsize=fs, family=BODY, ha="left", va="baseline")
        return
    tokens = []
    for word in line.split(" "):
        parts = word.split("*")
        tokens.append([(p, i % 2 == 1) for i, p in enumerate(parts) if p])
    widths = [[measure(p, fs, b) for p, b in tok] for tok in tokens]
    totals = [sum(w) for w in widths]
    gap = space_w
    if justify and len(tokens) > 1:
        gap = (x1 - x0 - sum(totals)) / (len(tokens) - 1)
    x = x0
    for tok, ws in zip(tokens, widths):
        for (p, b), w in zip(tok, ws):
            axT.text(x, yb, p, fontsize=fs, family=BODY, fontweight="bold" if b else "normal",
                     color=BLUE if b else "black", ha="left", va="baseline")
            x += w
        x += gap

text_lefts = [94, 425, 720]
text_rights = [395, 690, 1009]
row_tops = [750, 1027, 1279]
PITCH = 25.56
for ci, cells in enumerate([deg_cells, dep_cells, comb_cells]):
    for ri, lines in enumerate(cells):
        for li, line in enumerate(lines):
            if not line:
                continue
            yb = row_tops[ri] + 25 + li * PITCH + 7.5
            draw_line(line, text_lefts[ci], text_rights[ci], yb, body_fs)

# side table
SLW = 3.0
sl, sr = 1056, 1356
s_rows = [757, 803, 853, 887, 921, 955, 989, 1021]
for y in s_rows:
    axT.plot([sl, sr], [y, y], color="black", lw=SLW, solid_capstyle="projecting")
for x in [sl, sr]:
    axT.plot([x, x], [757, 1021], color="black", lw=SLW, solid_capstyle="projecting")
for x in [1142, 1249]:
    axT.plot([x, x], [803, 1021], color="black", lw=SLW)
axT.plot([tr_, sl], [750, 757], color="black", lw=2.6)
axT.plot([tr_, sl], [1027, 1021], color="black", lw=2.6)

axT.text((sl + sr) / 2 + 1, 781.5, "ISG for validation studies", fontsize=side_head_fs, family=BODY,
         fontweight="bold", ha="center", va="center")
for hdr, cx in zip(["FDR DEG", "FDR DEP"], [1196, 1303]):
    axT.text(cx, 830, hdr, fontsize=side_col_fs, family=BODY, fontweight="bold",
             ha="center", va="center")
for i, (g, a, b) in enumerate(zip(isg_genes, isg_fdr_deg, isg_fdr_dep)):
    yc = (s_rows[i + 2] + s_rows[i + 3]) / 2 + 2
    for txt, cx in zip([g, a, b], [1099, 1196, 1303]):
        axT.text(cx, yc, txt, fontsize=side_fs, family=BODY, ha="center", va="center")

fig.savefig("out.png", dpi=DPI)
